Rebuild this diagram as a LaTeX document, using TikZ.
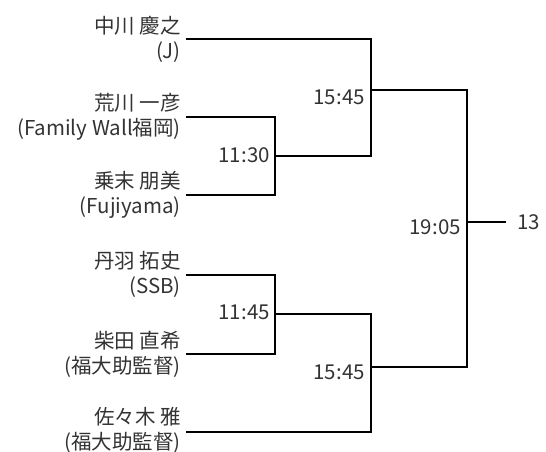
\documentclass[tikz,border=0pt]{standalone}
\usepackage{fontspec}
\setmainfont{Noto Sans CJK JP}
\definecolor{txt}{HTML}{333333}
\begin{document}
\begin{tikzpicture}[x=1pt,y=-1pt,
  player/.style={anchor=east,align=right,inner sep=0pt,text=txt,font=\fontsize{20.5}{25}\selectfont},
  time/.style={anchor=east,inner sep=0pt,text=txt,font=\fontsize{20.5}{22}\selectfont},
  wire/.style={line width=2pt,line join=miter}]
\useasboundingbox (0,0) rectangle (546,452);
\node[player] (p1) at (181,39) {中川 慶之\\(J)};
\node[player] (p2) at (181,117) {荒川 一彦\\(Family Wall福岡)};
\node[player] (p3) at (181,195) {乗末 朋美\\(Fujiyama)};
\node[player] (p4) at (181,274.5) {丹羽 拓史\\(SSB)};
\node[player] (p5) at (181,354) {柴田 直希\\(福大助監督)};
\node[player] (p6) at (181,430) {佐々木 雅\\(福大助監督)};
\coordinate (m1) at (275,156);
\coordinate (m2) at (275,314);
\coordinate (m3) at (371,90);
\coordinate (m4) at (371,367);
\coordinate (m5) at (467,222);
\coordinate (w) at (506,222);
\draw[wire] ([xshift=5pt]p2.east) -| (m1) |- ([xshift=5pt]p3.east);
\draw[wire] ([xshift=5pt]p1.east) -| (m3) |- (m1);
\draw[wire] ([xshift=5pt]p4.east) -| (m2) |- ([xshift=5pt]p5.east);
\draw[wire] (m2) -| (m4) |- ([xshift=5pt,yshift=-2pt]p6.east);
\draw[wire] (m3) -| (m5) |- (m4);
\draw[wire] (m5) -- (w);
\node[time] (t1) at (270,155) {11:30};
\node[time] (t2) at (270,312) {11:45};
\node[time] (t3) at (365,97) {15:45};
\node[time] (t4) at (365,372) {15:45};
\node[time] (t5) at (461,227) {19:05};
\node[time,anchor=west] (t6) at (517,222) {13};
\end{tikzpicture}
\end{document}
